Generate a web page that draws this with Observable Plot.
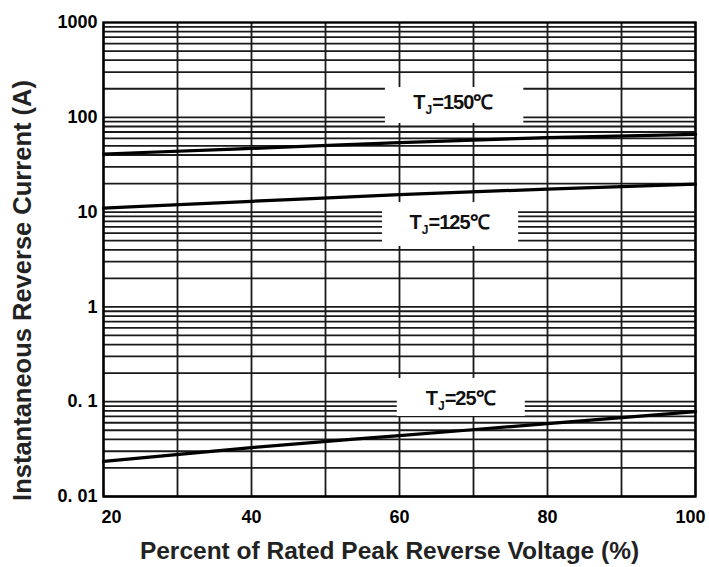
<!DOCTYPE html>
<html><head><meta charset="utf-8">
<script src="https://cdn.jsdelivr.net/npm/d3@7"></script>
<script src="https://cdn.jsdelivr.net/npm/@observablehq/plot@0.6"></script>
<style>
body{margin:0;background:#fff;}
svg text{font-family:"Liberation Sans",Arial,sans-serif;}
</style>
</head><body><div id="chart"></div>
<script>
const xVoltage = [20, 40, 60, 80, 100];
const iTj150 = [41, 47, 54, 61, 66];
const iTj125 = [11, 13, 15.3, 17.5, 19.7];
const iTj25 = [0.0234, 0.0328, 0.0439, 0.0586, 0.0785];
const yTicks = [0.01, 0.1, 1, 10, 100, 1000];
const yTickLabels = ["0. 01", "0. 1", "1", "10", "100", "1000"];
const xTicks = [20, 40, 60, 80, 100];
const seriesNames = ["150", "125", "25"];
const labelX = [67.2, 66.7, 68.2];
const labelY = [143, 7.77, 0.108];
const boxX1 = [58.1, 57.7, 59.7];
const boxX2 = [76.8, 76.1, 77.0];
const boxY1 = [86, 4.34, 0.0698];
const boxY2 = [206, 12.6, 0.176];

const series = [iTj150, iTj125, iTj25];
const lines = series.flatMap((s, k) => s.map((v, i) => ({x: xVoltage[i], y: v, s: seriesNames[k]})));
const gridY = [];
for (let e = -2; e < 3; e++) for (let m = 1; m <= 9; m++) gridY.push(m * Math.pow(10, e));
const gridX = d3.range(20, 101, 10);
const boxes = seriesNames.map((n, i) => ({n, x1: boxX1[i], x2: boxX2[i], y1: boxY1[i], y2: boxY2[i], x: labelX[i], y: labelY[i]}));

const plot = Plot.plot({
  width: 709, height: 567,
  marginLeft: 103, marginRight: 14, marginTop: 22, marginBottom: 71,
  x: {domain: [20, 100]},
  y: {type: "log", domain: [0.01, 1000]},
  marks: [
    Plot.ruleY(gridY, {stroke: "#1a1a1a", strokeWidth: 1.8}),
    Plot.ruleX(gridX, {stroke: "#1a1a1a", strokeWidth: 1.8}),
    Plot.rect(boxes, {x1: "x1", x2: "x2", y1: "y1", y2: "y2", fill: "white"}),
    Plot.line(lines, {x: "x", y: "y", z: "s", stroke: "black", strokeWidth: 3.2, curve: "monotone-x"}),
    Plot.text(boxes, {x: "x", y: "y", text: d => "TJ=" + d.n + "℃", fontSize: 20, fontWeight: "bold", fill: "#111"}),
    Plot.frame({stroke: "black", strokeWidth: 2.4}),
    Plot.axisY({ticks: yTicks, tickFormat: (d) => yTickLabels[yTicks.indexOf(d)], tickSize: 0, tickPadding: 6, fontSize: 18, fontWeight: "bold", label: null}),
    Plot.axisX({ticks: xTicks, tickFormat: d => String(d), tickSize: 0, tickPadding: 14, fontSize: 18, fontWeight: "bold", label: null}),
    Plot.text(["Percent of Rated Peak Reverse Voltage (%)"], {frameAnchor: "bottom", dx: -10, dy: 62, text: d => d, fontSize: 24.5, fontWeight: "bold", fill: "#222"}),
    Plot.text(["Instantaneous Reverse Current (A)"], {frameAnchor: "left", textAnchor: "middle", dx: -81, dy: 31, rotate: -90, text: d => d, fontSize: 25.5, fontWeight: "bold", fill: "#222"})
  ]
});
document.getElementById("chart").appendChild(plot);
d3.select(plot).selectAll("text").each(function(){
  const t = d3.select(this);
  const s = t.text();
  if (s.startsWith("TJ=")) {
    t.text("");
    t.append("tspan").text("T");
    t.append("tspan").attr("font-size", 12).attr("dy", 5).text("J");
    t.append("tspan").attr("dy", -5).attr("letter-spacing", -1).text(s.slice(2));
  }
  const g = this.closest("g[aria-label]");
  const isX = g && g.getAttribute("aria-label") === "x-axis tick label";
  if (isX && s === "20") t.attr("dx", 8);
  if (isX && s === "100") t.attr("dx", -5);
});
</script>
</body></html>
